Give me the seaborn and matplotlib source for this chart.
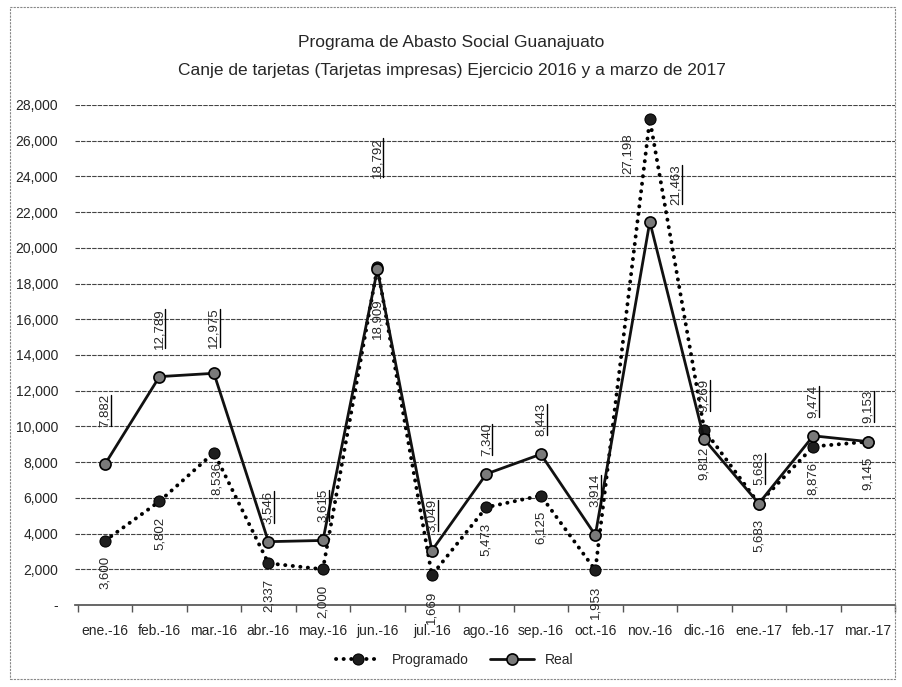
import matplotlib
matplotlib.use("Agg")
import matplotlib.pyplot as plt
import seaborn as sns
import pandas as pd
import numpy as np
from matplotlib.lines import Line2D
from matplotlib.patches import Rectangle

months = ["ene.-16", "feb.-16", "mar.-16", "abr.-16", "may.-16", "jun.-16", "jul.-16",
          "ago.-16", "sep.-16", "oct.-16", "nov.-16", "dic.-16", "ene.-17", "feb.-17", "mar.-17"]
programado = [3600, 5802, 8536, 2337, 2000, 18909, 1669, 5473, 6125, 1953, 27198, 9812, 5683, 8876, 9145]
real = [7882, 12789, 12975, 3546, 3615, 18792, 3049, 7340, 8443, 3914, 21463, 9269, 5683, 9474, 9153]
yticks = list(range(0, 28001, 2000))

sns.set_theme(style="white")
plt.rcParams['font.family'] = ['Liberation Sans', 'DejaVu Sans']

df = pd.DataFrame({"idx": list(range(len(months))), "Programado": programado, "Real": real})

fig = plt.figure(figsize=(9.03, 6.87), dpi=100)
ax = fig.add_axes([75/903, 1-605/687, 820/903, 500/687])

sns.lineplot(data=df, x="idx", y="Programado", ax=ax, color="black", lw=2.8,
             linestyle=(0, (0.05, 1.9)), dash_capstyle="round", marker="o", markersize=8,
             markerfacecolor="#1e1e1e", markeredgecolor="black", label="Programado", zorder=3)
sns.lineplot(data=df, x="idx", y="Real", ax=ax, color="#111111", lw=2.0,
             marker="o", markersize=8, markerfacecolor="#7a7a7a", markeredgecolor="black",
             markeredgewidth=1.2, label="Real", zorder=4)

ax.set_xlim(-0.55, 14.45)
ax.set_ylim(0, 28000)
ax.set_yticks(yticks)
ax.set_yticklabels(["-" if v == 0 else f"{v:,}" for v in yticks], fontsize=10)
ax.set_xticks(range(len(months)))
ax.set_xticklabels(months, fontsize=10)
ax.set_xticks(np.arange(-0.5, 14.6, 1.0), minor=True)
ax.set_xlabel("")
ax.set_ylabel("")
ax.grid(axis="y", color="#444444", lw=0.8, linestyle=(0, (4, 1)))
ax.set_axisbelow(True)
for s in ["top", "right", "left"]:
    ax.spines[s].set_visible(False)
ax.spines["bottom"].set_color("#555555")
ax.spines["bottom"].set_linestyle((0, (3, 1)))
ax.tick_params(axis="x", which="major", length=0, pad=14)
ax.tick_params(axis="x", which="minor", length=5, color="#555555", bottom=True)
ax.tick_params(axis="y", length=0, pad=12)

# Data labels (offsets in points)
prog_off = {2: (2, -7), 6: (0, -11), 11: (0, -12), 10: (-16, -10), 5: (0, -22)}
real_off = {0: (0, 27), 1: (0, 20), 2: (0, 18), 5: (0, 66), 9: (0, 20), 10: (19, 12), 11: (0, 20)}
for i, v in enumerate(programado):
    dx, dy = prog_off.get(i, (0, -11))
    ax.annotate(f"{v:,}", (i, v), xytext=(dx, dy), textcoords="offset points",
                rotation=90, ha="center", va="top", fontsize=9.5, zorder=5)
ul_texts = []
for i, v in enumerate(real):
    dx, dy = real_off.get(i, (0, 13))
    t = ax.annotate(f"{v:,}", (i, v), xytext=(dx, dy), textcoords="offset points",
                    rotation=90, ha="center", va="bottom", fontsize=9.5, zorder=5)
    ul_texts.append(t)

fig.text(0.5, 1-42/687, "Programa de Abasto Social Guanajuato", ha="center", va="center", fontsize=12.5)
fig.text(0.5, 1-71/687, "Canje de tarjetas (Tarjetas impresas) Ejercicio 2016 y a marzo de 2017",
         ha="center", va="center", fontsize=12.5)

leg = ax.legend(loc="center", bbox_to_anchor=(455/903, 1-660/687), bbox_transform=fig.transFigure,
                ncol=2, frameon=False, fontsize=10, handlelength=3.2, columnspacing=1.5)

fig.patches.append(Rectangle((10/903, 8/687), 885/903, 672/687, transform=fig.transFigure,
                             fill=False, edgecolor="#888888", lw=0.8, linestyle=(0, (2, 1))))

fig.canvas.draw()
r = fig.canvas.get_renderer()
inv = fig.transFigure.inverted()
for t in ul_texts:
    bb = t.get_window_extent(r)
    x = bb.x1
    (fx0, fy0) = inv.transform((x, bb.y0 + 1))
    (fx1, fy1) = inv.transform((x, bb.y1 - 1))
    fig.add_artist(Line2D([fx0, fx1], [fy0, fy1], transform=fig.transFigure, color="black", lw=1.0))

fig.savefig("out.png", dpi=100)
